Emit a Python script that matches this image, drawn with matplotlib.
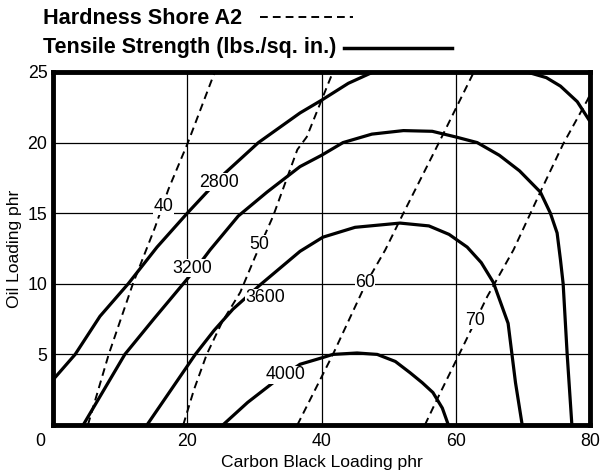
import matplotlib
matplotlib.use('agg')
import matplotlib.pyplot as plt
from matplotlib.lines import Line2D
import matplotlib.transforms as mtransforms

plt.rcParams['font.family'] = ['Liberation Sans', 'DejaVu Sans']

# tensile strength contours (lbs./sq. in.)
t2800_x = [0, 3.3, 7.0, 11.2, 15.5, 20.0, 25.3, 30.6, 36.8, 40.0, 44.0, 47.7, 52.0, 59.0, 66.0, 70.6, 73.5, 75.6, 78.1, 80.0]
t2800_y = [3.2, 5.0, 7.7, 10.0, 12.6, 15.0, 17.7, 20.0, 22.1, 23.0, 24.2, 25.0, 25.6, 25.8, 25.5, 25.0, 24.6, 24.0, 22.9, 21.5]
t3200_x = [4.5, 7.6, 10.7, 15.0, 19.4, 21.5, 23.4, 27.6, 31.9, 36.8, 40.0, 43.2, 47.5, 52.2, 56.5, 60.0, 63.2, 66.5, 69.5, 72.6, 74.1, 75.1, 75.6, 76.0, 76.6, 77.3]
t3200_y = [0.0, 2.5, 5.0, 7.5, 10.0, 11.2, 12.4, 14.8, 16.5, 18.3, 19.1, 20.0, 20.6, 20.85, 20.8, 20.4, 20.0, 19.1, 18.0, 16.5, 15.0, 13.6, 11.7, 10.0, 5.0, 0.0]
t3600_x = [14.0, 17.6, 21.2, 24.0, 26.8, 30.8, 36.8, 40.2, 45.0, 51.7, 56.0, 59.0, 61.7, 63.8, 65.6, 67.8, 68.9, 69.9]
t3600_y = [0.0, 2.5, 5.0, 6.7, 8.2, 9.9, 12.3, 13.3, 14.0, 14.3, 14.1, 13.5, 12.6, 11.5, 10.1, 7.2, 3.0, 0.0]
t4000_x = [25.3, 29.0, 32.8, 36.8, 40.0, 41.7, 45.3, 48.3, 51.0, 53.2, 55.0, 56.6, 58.0, 58.9]
t4000_y = [0.0, 1.6, 3.0, 4.3, 4.75, 5.0, 5.1, 5.0, 4.5, 3.7, 3.0, 2.3, 1.2, 0.0]

# hardness contours (Shore A2)
h40_x = [5.2, 8.3, 11.9, 15.2, 17.2, 20.1, 24.1]
h40_y = [0.0, 5.0, 10.0, 14.0, 16.7, 20.0, 25.0]
h50_x = [19.4, 21.0, 22.9, 25.2, 27.9, 30.1, 32.8, 36.4, 37.8, 40.0, 41.7]
h50_y = [0.0, 2.5, 5.0, 7.3, 9.4, 11.9, 14.8, 19.5, 20.4, 23.0, 25.0]
h60_x = [36.4, 41.7, 46.6, 49.5, 52.2, 57.5, 62.7]
h60_y = [0.0, 5.0, 10.0, 12.4, 15.0, 20.0, 25.0]
h70_x = [55.4, 57.2, 60.4, 64.7, 68.6, 72.6, 76.0, 79.6, 80.0]
h70_y = [0.0, 1.8, 4.9, 9.1, 12.4, 16.5, 19.9, 23.0, 23.4]

tensile_labels = ['2800', '3200', '3600', '4000']
tensile_pos = [(24.8, 17.2), (20.8, 11.1), (31.6, 9.0), (34.7, 3.55)]
hard_labels = ['40', '50', '60', '70']
hard_pos = [(16.5, 15.5), (30.7, 12.8), (46.5, 10.1), (62.9, 7.4)]

fig = plt.figure(figsize=(6, 4.76), dpi=100)
ax = fig.add_axes([53 / 600, 1 - 425 / 476, 537 / 600, 353 / 476])

for xs, ys in [(t2800_x, t2800_y), (t3200_x, t3200_y), (t3600_x, t3600_y), (t4000_x, t4000_y)]:
    ax.plot(xs, ys, color='black', lw=2.3, solid_capstyle='butt')
for xs, ys in [(h40_x, h40_y), (h50_x, h50_y), (h60_x, h60_y), (h70_x, h70_y)]:
    ax.plot(xs, ys, color='black', lw=1.4, dashes=(4, 2.6))

for lab, (x, y) in zip(tensile_labels + hard_labels, tensile_pos + hard_pos):
    ax.text(x, y, lab, ha='center', va='center', fontsize=12.8,
            bbox=dict(facecolor='white', edgecolor='none', pad=0.3))

ax.set_xlim(0, 80)
ax.set_ylim(0, 25)
ax.set_xticks([20, 40, 60, 80])
ax.set_yticks([5, 10, 15, 20, 25])
ax.grid(True, color='black', lw=0.9)
ax.set_axisbelow(True)
ax.tick_params(length=0, labelsize=12.8)
ax.tick_params(axis='x', pad=6)
ax.tick_params(axis='y', pad=4)
for s in ax.spines.values():
    s.set_linewidth(3.5)

# corner zero shared by both axes
off = mtransforms.ScaledTranslation(-13 / 100, -16 / 100, fig.dpi_scale_trans)
ax.text(0, 0, '0', transform=ax.transData + off, ha='center', va='center', fontsize=12.8)

ax.set_xlabel('Carbon Black Loading phr', fontsize=12.6, labelpad=3)
ax.set_ylabel('Oil Loading phr', fontsize=12.6, labelpad=4)

# header legend
fig.text(43 / 600, 1 - 19 / 476, 'Hardness Shore A2', fontsize=15.6, fontweight='bold', va='center')
fig.text(43 / 600, 1 - 48 / 476, 'Tensile Strength (lbs./sq. in.)', fontsize=15.5, fontweight='bold', va='center')
fig.add_artist(Line2D([260 / 600, 353 / 600], [1 - 17 / 476, 1 - 17 / 476], color='black', lw=1.4, dashes=(4, 2.6)))
fig.add_artist(Line2D([344 / 600, 452 / 600], [1 - 48 / 476, 1 - 48 / 476], color='black', lw=2.5))

fig.savefig('out.png', dpi=100)
